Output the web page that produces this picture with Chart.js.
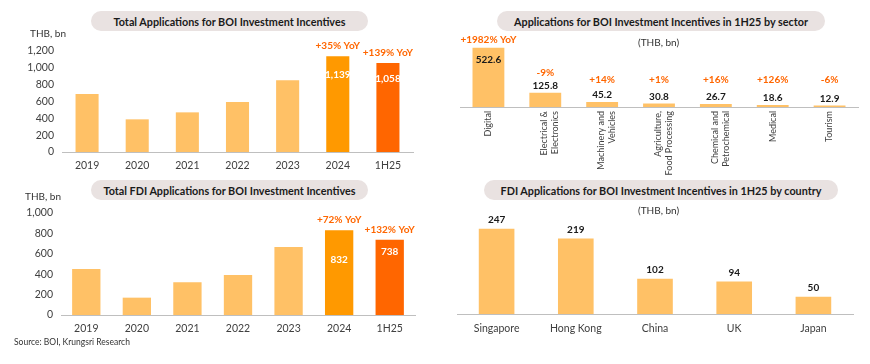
<!DOCTYPE html>
<html>
<head>
<meta charset="utf-8">
<script src="https://cdn.jsdelivr.net/npm/chart.js@4.4.1/dist/chart.umd.min.js"></script>
<style>
  body { margin: 0; background: #fff; font-family: Lato, "Noto Sans", sans-serif; }
  #wrap { position: relative; width: 870px; height: 364px; overflow: hidden; }
  canvas { position: absolute; }
  .pill {
    position: absolute; height: 20px; background: #e9e2e1; border-radius: 10px;
    font-weight: bold; font-size: 10.8px; color: #1a1a1a;
    display: flex; align-items: center; justify-content: center; white-space: nowrap;
  }
  .note { position: absolute; font-size: 10px; color: #333; white-space: nowrap; }
</style>
</head>
<body>
<div id="wrap">
  <canvas id="totalChart" width="435" height="175" style="left:0;top:0"></canvas>
  <canvas id="sectorChart" width="435" height="175" style="left:435px;top:0"></canvas>
  <canvas id="fdiChart" width="435" height="189" style="left:0;top:175px"></canvas>
  <canvas id="countryChart" width="435" height="189" style="left:435px;top:175px"></canvas>

  <div class="pill" style="left:91px;top:11px;width:277px">Total Applications for BOI Investment Incentives</div>
  <div class="pill" style="left:497px;top:11px;width:328px">Applications for BOI Investment Incentives in 1H25 by sector</div>
  <div class="pill" style="left:91px;top:180px;width:277px">Total FDI Applications for BOI Investment Incentives</div>
  <div class="pill" style="left:484px;top:180px;width:354px">FDI Applications for BOI Investment Incentives in 1H25 by country</div>

  <div class="note" style="left:30px;top:27px">THB, bn</div>
  <div class="note" style="left:25px;top:190px">THB, bn</div>
  <div class="note" style="left:638px;top:36px">(THB, bn)</div>
  <div class="note" style="left:638px;top:204px">(THB, bn)</div>
  <div class="note" style="left:14px;top:337px;font-size:8.5px">Source: BOI, Krungsri Research</div>
</div>
<script>
const yearLabels = ["2019", "2020", "2021", "2022", "2023", "2024", "1H25"];
const totalApps = [690, 388, 471, 594, 852, 1139, 1058];
const totalAppsYoY = [null, null, null, null, null, "+35% YoY", "+139% YoY"];
const fdiApps = [452, 170, 322, 393, 666, 832, 738];
const fdiAppsYoY = [null, null, null, null, null, "+72% YoY", "+132% YoY"];

const sectorLabels = [
  ["Digital"],
  ["Electrical &", "Electronics"],
  ["Machinery and", "Vehicles"],
  ["Agriculture,", "Food Processing"],
  ["Chemical and", "Petrochemical"],
  ["Medical"],
  ["Tourism"]
];
const sectorValues = [522.6, 125.8, 45.2, 30.8, 26.7, 18.6, 12.9];
const sectorYoY = ["+1982% YoY", "-9%", "+14%", "+1%", "+16%", "+126%", "-6%"];

const countryLabels = ["Singapore", "Hong Kong", "China", "UK", "Japan"];
const countryValues = [247, 219, 102, 94, 50];

const FONT = "Lato, 'Noto Sans', sans-serif";
const LIGHT = "#ffc166";
const ORANGE = "#ff9900";
const DARK_ORANGE = "#ff6600";
const AXIS = "#bfbfbf";
const TEXT = "#404040";

Chart.defaults.font.family = FONT;
Chart.defaults.color = TEXT;

function yearColors(labels) {
  return labels.map((_, i) => (i === labels.length - 1 ? DARK_ORANGE : i === labels.length - 2 ? ORANGE : LIGHT));
}

function drawText(ctx, text, x, y, color, size, baseline, weight = "bold") {
  ctx.save();
  ctx.font = `${weight} ${size}px ${FONT}`;
  ctx.fillStyle = color;
  ctx.textAlign = "center";
  ctx.textBaseline = baseline;
  ctx.fillText(text, x, y);
  ctx.restore();
}

function yearLabelPlugin(values, yoy, insideOffsets) {
  return {
    id: "yearLabels",
    afterDatasetsDraw(chart) {
      const meta = chart.getDatasetMeta(0);
      meta.data.forEach((bar, i) => {
        if (!yoy[i]) return;
        drawText(chart.ctx, yoy[i], bar.x, bar.y - 5, DARK_ORANGE, 10, "bottom");
        drawText(chart.ctx, values[i].toLocaleString("en-US"), bar.x, bar.y + insideOffsets[i], "#ffffff", 10, "middle");
      });
    }
  };
}

function yearChart(id, values, yoy, max, pad, insideOffsets) {
  return new Chart(document.getElementById(id), {
    type: "bar",
    data: {
      labels: yearLabels,
      datasets: [{ data: values, backgroundColor: yearColors(yearLabels), categoryPercentage: 1, barPercentage: pad.bar }]
    },
    options: {
      responsive: false,
      animation: false,
      layout: { padding: { top: pad.top, right: pad.right, left: 0, bottom: 0 } },
      plugins: { legend: { display: false }, tooltip: { enabled: false } },
      scales: {
        x: {
          grid: { display: false, drawTicks: false },
          border: { display: true, color: AXIS },
          ticks: { font: { size: 10.5 }, padding: 7, color: TEXT },
          afterFit: (scale) => { scale.height = pad.axisH; }
        },
        y: {
          min: 0,
          max,
          grid: { display: false, drawTicks: false },
          border: { display: false },
          ticks: { stepSize: 200, font: { size: 10.5 }, padding: 8, color: TEXT },
          afterFit: (scale) => { scale.width = pad.left; }
        }
      }
    },
    plugins: [yearLabelPlugin(values, yoy, insideOffsets)]
  });
}

yearChart("totalChart", totalApps, totalAppsYoY, 1200,
  { top: 51, right: 22, left: 62, axisH: 23, bar: 0.46 }, [0, 0, 0, 0, 0, 19, 16]);
yearChart("fdiChart", fdiApps, fdiAppsYoY, 1000,
  { top: 38, right: 20, left: 61, axisH: 49, bar: 0.56 }, [0, 0, 0, 0, 0, 30, 12]);

new Chart(document.getElementById("sectorChart"), {
  type: "bar",
  data: {
    labels: sectorLabels,
    datasets: [{ data: sectorValues, backgroundColor: LIGHT, categoryPercentage: 1, barPercentage: 0.56 }]
  },
  options: {
    responsive: false,
    animation: false,
    layout: { padding: { top: 30, right: 12, left: 25, bottom: 0 } },
    plugins: { legend: { display: false }, tooltip: { enabled: false } },
    scales: {
      x: {
        grid: { display: false, drawTicks: false },
        border: { display: true, color: AXIS },
        ticks: { display: false },
        afterFit: (scale) => { scale.height = 68; }
      },
      y: { display: false, min: 0, max: 680 }
    }
  },
  plugins: [{
    id: "sectorLabels",
    afterDatasetsDraw(chart) {
      const meta = chart.getDatasetMeta(0);
      const ctx = chart.ctx;
      const axisY = chart.chartArea.bottom;
      meta.data.forEach((bar, i) => {
        const text = sectorValues[i].toFixed(1);
        const height = bar.base - bar.y;
        if (height > 30) {
          drawText(ctx, text, bar.x, bar.y + 12, "#1a1a1a", 10, "middle");
          drawText(ctx, sectorYoY[i], bar.x, bar.y - 8, DARK_ORANGE, 10, "middle");
        } else {
          const valueY = bar.y - 7;
          drawText(ctx, text, bar.x, valueY, "#1a1a1a", 10, "middle");
          drawText(ctx, sectorYoY[i], bar.x, Math.min(valueY - 13, 80), DARK_ORANGE, 10, "middle");
        }
        // rotated category label, reading bottom to top
        const lines = sectorLabels[i];
        ctx.save();
        ctx.font = `9px ${FONT}`;
        ctx.fillStyle = TEXT;
        ctx.textAlign = "right";
        ctx.textBaseline = "middle";
        lines.forEach((line, k) => {
          const x = lines.length === 1 ? bar.x : bar.x - 1 + k * 11;
          ctx.save();
          ctx.translate(x, axisY + 4);
          ctx.rotate(-Math.PI / 2);
          ctx.fillText(line, 0, 0);
          ctx.restore();
        });
        ctx.restore();
      });
    }
  }]
});

new Chart(document.getElementById("countryChart"), {
  type: "bar",
  data: {
    labels: countryLabels,
    datasets: [{ data: countryValues, backgroundColor: LIGHT, categoryPercentage: 1, barPercentage: 0.45 }]
  },
  options: {
    responsive: false,
    animation: false,
    layout: { padding: { top: 39, right: 17, left: 22, bottom: 0 } },
    plugins: { legend: { display: false }, tooltip: { enabled: false } },
    scales: {
      x: {
        grid: { display: false, drawTicks: false },
        border: { display: true, color: AXIS },
        ticks: { font: { size: 10.5 }, padding: 8, color: TEXT },
        afterFit: (scale) => { scale.height = 50; }
      },
      y: { display: false, min: 0, max: 290 }
    }
  },
  plugins: [{
    id: "countryLabels",
    afterDatasetsDraw(chart) {
      const meta = chart.getDatasetMeta(0);
      meta.data.forEach((bar, i) => {
        drawText(chart.ctx, String(countryValues[i]), bar.x, bar.y - 9, "#1a1a1a", 10, "middle");
      });
    }
  }]
});
</script>
</body>
</html>
